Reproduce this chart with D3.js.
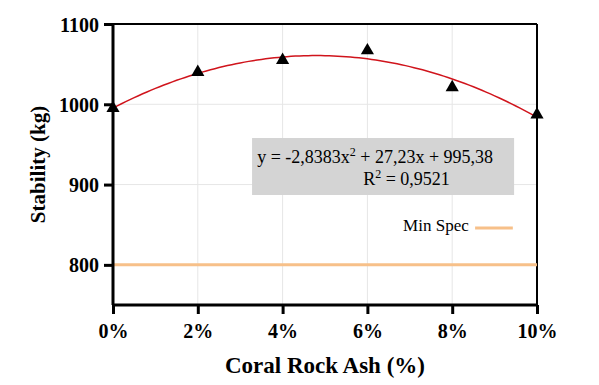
<!DOCTYPE html>
<html>
<head>
<meta charset="utf-8">
<script src="https://cdn.jsdelivr.net/npm/d3@7"></script>
<style>
  body { margin: 0; background: #fff; }
  text { font-family: "Liberation Serif", "Times New Roman", serif; }
</style>
</head>
<body>
<svg id="chart" width="599" height="385"></svg>
<script>
// data
const ashPct = [0, 2, 4, 6, 8, 10];
const stability = [995, 1040, 1055, 1067, 1021, 987];
const xTicks = [0, 2, 4, 6, 8, 10];
const yTicks = [800, 900, 1000, 1100];
const minSpec = 800;
// trendline coefficients from the label
const fitCoef = [-2.8383, 27.23, 995.38];
const eqLine1 = "y = -2,8383x";
const eqLine1b = " + 27,23x + 995,38";
const eqLine2 = "R";
const eqLine2b = " = 0,9521";

const svg = d3.select("#chart");
const margin = {top: 24, right: 62, bottom: 80, left: 113},
      w = 599 - margin.left - margin.right,
      h = 385 - margin.top - margin.bottom;

const g = svg.append("g").attr("transform", `translate(${margin.left},${margin.top})`);

const x = d3.scaleLinear().domain([0, 10]).range([0, w]);
const y = d3.scaleLinear().domain([750, 1100]).range([h, 0]);

// grid
g.append("g").selectAll("line").data(xTicks.slice(1, -1)).enter().append("line")
  .attr("x1", d => x(d)).attr("x2", d => x(d)).attr("y1", 0).attr("y2", h)
  .attr("stroke", "#e6e6e6").attr("stroke-width", 1);
g.append("g").selectAll("line").data(yTicks.slice(0, -1)).enter().append("line")
  .attr("x1", 0).attr("x2", w).attr("y1", d => y(d)).attr("y2", d => y(d))
  .attr("stroke", "#e6e6e6").attr("stroke-width", 1);

// box top/right
g.append("line").attr("x1", 0).attr("x2", w).attr("y1", 0).attr("y2", 0)
  .attr("stroke", "#000").attr("stroke-width", 2);
g.append("line").attr("x1", w).attr("x2", w).attr("y1", 0).attr("y2", h)
  .attr("stroke", "#000").attr("stroke-width", 2);

// min spec line
g.append("line").attr("x1", 0).attr("x2", w).attr("y1", y(minSpec)).attr("y2", y(minSpec))
  .attr("stroke", "#f7c089").attr("stroke-width", 3);

// trendline
const fx = d3.range(0, 10.01, 0.1);
g.append("path")
  .datum(fx)
  .attr("fill", "none").attr("stroke", "#d0141c").attr("stroke-width", 1.5)
  .attr("d", d3.line().x(d => x(d)).y(d => y(fitCoef[0]*d*d + fitCoef[1]*d + fitCoef[2])));

// axes
const xAxis = g.append("g").attr("transform", `translate(0,${h})`)
  .call(d3.axisBottom(x).tickValues(xTicks).tickFormat(d => d + "%").tickSize(9).tickSizeOuter(0));
const yAxis = g.append("g")
  .call(d3.axisLeft(y).tickValues(yTicks).tickFormat(d3.format("d")).tickSize(9).tickSizeOuter(0));
[xAxis, yAxis].forEach(a => {
  a.select(".domain").attr("stroke-width", 3);
  a.selectAll(".tick line").attr("stroke-width", 3);
  a.selectAll("text").attr("font-family", "Liberation Serif").attr("font-weight", "bold")
    .attr("font-size", 20).attr("fill", "#000");
});
xAxis.selectAll("text").attr("dy", "1.05em");
yAxis.selectAll("text").attr("dx", "-0.1em").attr("dy", "0.35em");
yAxis.select(".domain").attr("d", `M0,${h}V0`);
xAxis.select(".domain").attr("d", `M0,0H${w}`);

// points
g.selectAll("path.pt").data(ashPct).enter().append("path")
  .attr("class", "pt")
  .attr("d", d3.symbol().type(d3.symbolTriangle).size(75))
  .attr("transform", (d, i) => `translate(${x(d)},${y(stability[i])})`)
  .attr("fill", "#000");

// equation box
const eq = g.append("g");
eq.append("rect").attr("x", x(3.28)).attr("y", y(958)).attr("width", x(9.46) - x(3.28))
  .attr("height", y(887) - y(958)).attr("fill", "#d4d4d4");
const t1 = eq.append("text").attr("x", x(3.4)).attr("y", y(927)).attr("font-size", 18);
t1.append("tspan").text(eqLine1);
t1.append("tspan").attr("dy", -7).attr("font-size", 12).text("2");
t1.append("tspan").attr("dy", 7).text(eqLine1b);
const t2 = eq.append("text").attr("x", x(5.9)).attr("y", y(900)).attr("font-size", 18);
t2.append("tspan").text(eqLine2);
t2.append("tspan").attr("dy", -7).attr("font-size", 12).text("2");
t2.append("tspan").attr("dy", 7).text(eqLine2b);

// legend
g.append("text").attr("x", x(8.39)).attr("y", y(842)).attr("text-anchor", "end")
  .attr("font-size", 17).text("Min Spec");
g.append("line").attr("x1", x(8.54)).attr("x2", x(9.43)).attr("y1", y(846)).attr("y2", y(846))
  .attr("stroke", "#f7c089").attr("stroke-width", 3);

// axis titles
svg.append("text").attr("x", margin.left + w / 2).attr("y", 373).attr("text-anchor", "middle")
  .attr("font-weight", "bold").attr("font-size", 23).text("Coral Rock Ash (%)");
svg.append("text").attr("transform", `translate(45,${margin.top + y(925)}) rotate(-90)`)
  .attr("text-anchor", "middle").attr("font-weight", "bold").attr("font-size", 21).text("Stability (kg)");
</script>
</body>
</html>
